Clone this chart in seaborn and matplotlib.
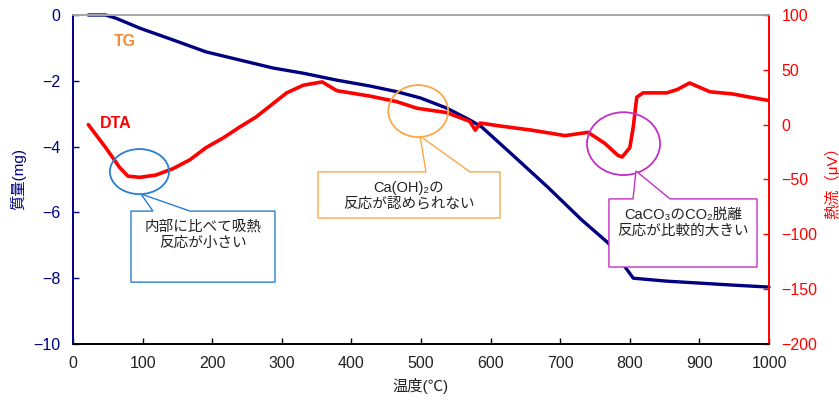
import matplotlib
matplotlib.use("Agg")
import matplotlib.pyplot as plt
from matplotlib.patches import Ellipse, Polygon
import numpy as np
import pandas as pd
import seaborn as sns

# TG: mass change (mg) vs temperature (°C)
tg_temp = [22, 47, 62, 96, 144, 191, 240, 287, 331, 379, 427, 465, 499, 537,
           570, 587, 635, 682, 731, 769, 786, 805, 853, 901, 948, 1000]
tg_mass = [0, 0, -0.1, -0.4, -0.76, -1.12, -1.37, -1.61, -1.77, -1.98, -2.16,
           -2.33, -2.52, -2.83, -3.19, -3.40, -4.32, -5.23, -6.23, -6.93,
           -7.45, -8.0, -8.09, -8.15, -8.21, -8.27]

# DTA: heat flow (µV) vs temperature (°C)
dta_temp = [22, 47, 67, 79, 96, 119, 144, 168, 191, 216, 240, 263, 285, 307,
            331, 358, 379, 427, 465, 494, 537, 570, 578, 585, 611, 659, 707,
            740, 764, 783, 789, 800, 805, 810, 819, 853, 868, 886, 915, 948,
            973, 1000]
dta_flow = [0, -21, -39, -47, -48, -46, -40, -32, -21, -12, -2, 7, 18, 29,
            36, 39, 31, 26, 21, 15, 11, 3, -5, 1.5, -1, -5, -10, -7, -17,
            -28, -29.5, -21, -2, 25, 29, 29, 32, 38, 30, 28, 25, 22]

x_ticks = list(range(0, 1001, 100))
tg_ticks = list(range(-10, 1, 2))
dta_ticks = list(range(-200, 101, 50))

NAVY = "#000080"
RED = "#ff0000"

sns.set_style("white")
plt.rcParams["font.family"] = ["Liberation Sans", "Noto Sans CJK JP", "DejaVu Sans"]
plt.rcParams["axes.unicode_minus"] = True

fig = plt.figure(figsize=(8.39, 4.0), dpi=100)
ax1 = fig.add_axes([73 / 839, 1 - 344 / 400, (769 - 73) / 839, (344 - 15) / 400])
ax2 = ax1.twinx()

tg_df = pd.DataFrame({"temp": tg_temp, "mass": tg_mass})
dta_df = pd.DataFrame({"temp": dta_temp, "flow": dta_flow})

sns.lineplot(data=tg_df, x="temp", y="mass", ax=ax1, color=NAVY, lw=2.4,
             sort=False, clip_on=False)
sns.lineplot(data=dta_df, x="temp", y="flow", ax=ax2, color=RED, lw=2.6,
             sort=False)

ax1.set_xlim(0, 1000)
ax1.set_ylim(-10, 0)
ax2.set_ylim(-200, 100)
ax1.set_xticks(x_ticks)
ax1.set_yticks(tg_ticks)
ax2.set_yticks(dta_ticks)

ax1.tick_params(axis="x", direction="in", length=4, width=1, color="black",
                labelsize=11.5, pad=9, labelcolor="#222222", bottom=True)
ax1.tick_params(axis="y", direction="in", length=4, width=1, color=NAVY,
                labelsize=11.5, pad=9, labelcolor=NAVY, left=True)
ax2.tick_params(axis="y", direction="in", length=4, width=1, color=RED,
                labelsize=11.5, pad=9, labelcolor=RED, right=True)

for ax in (ax1, ax2):
    for s in ax.spines.values():
        s.set_linewidth(1.2)
    ax.spines["top"].set_color("#a6a6a6")
    ax.spines["bottom"].set_color("black")
    ax.spines["left"].set_color(NAVY)
    ax.spines["right"].set_color(RED)

ax1.set_xlabel("温度(℃)", fontsize=11, color="#222222", labelpad=5)
ax1.set_ylabel("質量(mg)", fontsize=11, color=NAVY, labelpad=5)
ax2.set_ylabel("熱流（μV）", fontsize=11, color=RED, labelpad=5)

# series labels
ax1.text(74, -0.8, "TG", color="#f08c3c", fontsize=11.5, fontweight="bold",
         ha="center", va="center")
ax1.text(61, -3.31, "DTA", color=RED, fontsize=11.5, fontweight="bold",
         ha="center", va="center")

T = ax1.transData


def callout(x0, x1, ytop, ybot, tip, base, color, text, tx, ty):
    pts = [(x0, ytop), (base[0], ytop), tip, (base[1], ytop), (x1, ytop),
           (x1, ybot), (x0, ybot)]
    ax2.add_patch(Polygon(pts, closed=True, facecolor="white", edgecolor=color,
                          lw=1.0, transform=T, zorder=5))
    ax2.text(tx, ty, text, transform=T, ha="center", va="center",
             fontsize=10.5, color="#222222", linespacing=1.2, zorder=6)


def ring(cx, cy, w, h, color):
    ax2.add_patch(Ellipse((cx, cy), w, h, facecolor="none", edgecolor=color,
                          lw=1.3, transform=T, zorder=4))


BLUE = "#2a7fcf"
ORANGE = "#f9a84a"
MAGENTA = "#c42fc4"

ring(95.5, -4.76, 85, 1.37, BLUE)
ring(496, -2.92, 86, 1.58, ORANGE)
ring(791, -3.91, 105, 1.91, MAGENTA)

callout(83.3, 290.2, -5.96, -8.12, (97.7, -5.44), (114.9, 168.1), BLUE,
        "内部に比べて吸熱\n反応が小さい", 186.8, -6.69)
callout(352, 613.5, -4.77, -6.17, (498.6, -3.68), (507.2, 570.4), ORANGE,
        "Ca(OH)₂の\n反応が認められない", 482.8, -5.50)
callout(770, 982.8, -5.59, -7.66, (808.9, -4.74), (804.6, 857.8), MAGENTA,
        "CaCO₃のCO₂脱離\n反応が比較的大きい", 876.4, -6.32)

fig.savefig("out.png", dpi=100)
